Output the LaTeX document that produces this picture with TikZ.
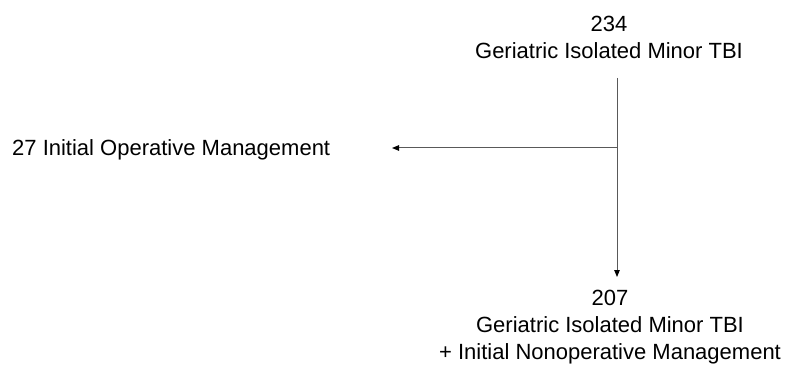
\documentclass[tikz,border=0pt]{standalone}
\usepackage{fontspec}
\setmainfont{Liberation Sans}
\usetikzlibrary{arrows.meta}
\begin{document}
\begin{tikzpicture}[x=1pt,y=1pt,
  lbl/.style={inner sep=0pt, font=\fontsize{22}{27}\selectfont, align=center, text=black},
  conn/.style={draw=black!65, line width=1pt},
  arr/.style={conn, -{Triangle[length=7pt,width=5.5pt,color=black]}}]
\useasboundingbox (0,0) rectangle (791,364);
\node[lbl, anchor=north] (top) at (609,348) {234\\Geriatric Isolated Minor TBI};
\node[lbl, anchor=north] (bot) at (610,74) {207\\Geriatric Isolated Minor TBI\\+ Initial Nonoperative Management};
\node[lbl, anchor=base west] (left) at (12,208) {27 Initial Operative Management};
\coordinate (vtop) at (617,286);
\coordinate (junc) at (617,216);
\coordinate (vend) at (617,87);
\coordinate (ltip) at (392,216);
\draw[conn] (vtop) -- (junc);
\draw[arr] (junc) -- (vend);
\draw[arr] (junc) -- (ltip);
\end{tikzpicture}
\end{document}
